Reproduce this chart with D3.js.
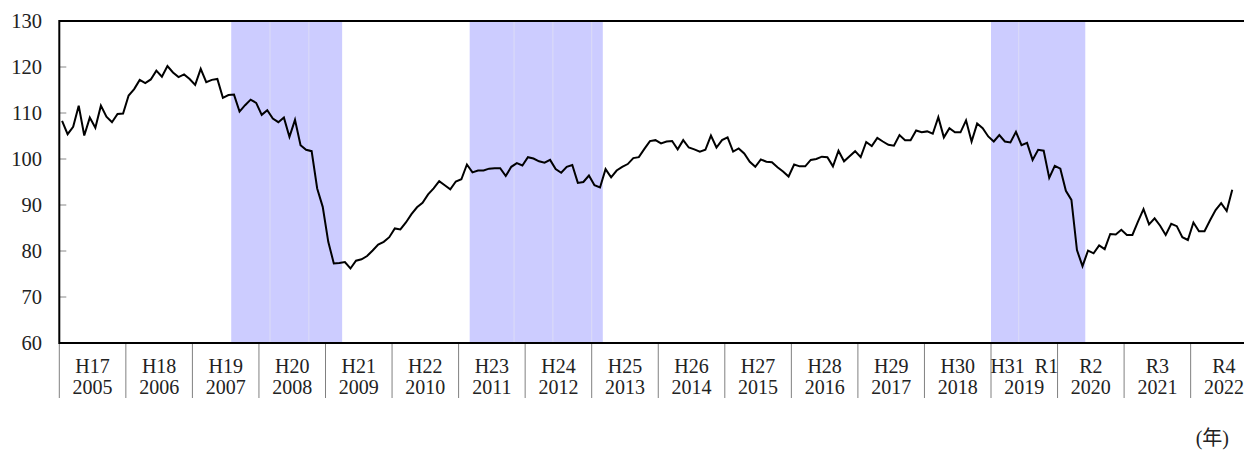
<!DOCTYPE html>
<meta charset="utf-8">
<style>
body{margin:0;background:#fff;}
text{font-family:"Liberation Serif","Noto Sans CJK JP",serif;fill:#222;}
</style>
<body>
<svg id="chart" width="1244" height="450"></svg>
<script src="https://cdnjs.cloudflare.com/ajax/libs/d3/7.8.5/d3.min.js"></script>
<script>

// monthly index, Jan 2005 - Aug 2022
var values = [
  108.3,105.4,107.0,111.6,105.1,109.0,106.8,111.6,109.2,108.0,109.8,109.9, // 2005
  113.8,115.2,117.2,116.5,117.3,119.2,117.9,120.2,118.8,117.8,118.4,117.4, // 2006
  116.1,119.6,116.7,117.2,117.4,113.3,113.9,114.0,110.3,111.7,112.9,112.2, // 2007
  109.6,110.6,108.8,108.0,109.0,104.8,108.5,103.0,102.0,101.7,93.6,89.6,   // 2008
  82.0,77.3,77.4,77.6,76.2,77.9,78.2,78.9,80.1,81.4,82.0,83.0,             // 2009
  84.9,84.7,86.2,88.0,89.5,90.5,92.3,93.6,95.2,94.3,93.4,95.1,             // 2010
  95.6,98.8,97.1,97.5,97.5,97.9,98.0,98.0,96.3,98.3,99.1,98.6,             // 2011
  100.4,100.1,99.5,99.2,99.8,97.8,97.0,98.3,98.7,94.8,95.0,96.4,           // 2012
  94.3,93.8,97.8,96.0,97.5,98.3,98.9,100.2,100.4,102.2,103.9,104.1,        // 2013
  103.4,103.8,103.9,102.1,104.1,102.5,102.1,101.6,102.0,105.1,102.5,104.1, // 2014
  104.7,101.6,102.3,101.2,99.4,98.3,99.9,99.4,99.3,98.2,97.3,96.2,         // 2015
  98.8,98.4,98.4,99.8,100.0,100.5,100.4,98.4,101.8,99.5,100.6,101.7,       // 2016
  100.4,103.7,102.8,104.6,103.8,103.1,102.9,105.2,104.1,104.1,106.2,105.8, // 2017
  106.0,105.5,109.1,104.7,106.7,105.8,105.8,108.4,103.8,107.7,106.7,104.9, // 2018
  103.8,105.2,103.8,103.6,105.9,103.0,103.5,99.8,102.0,101.8,95.9,98.5,    // 2019
  97.9,93.1,91.1,80.2,76.7,80.1,79.5,81.2,80.4,83.7,83.6,84.6,             // 2020
  83.5,83.5,86.4,89.1,85.8,87.1,85.5,83.5,85.9,85.4,83.0,82.4,             // 2021
  86.2,84.3,84.3,86.7,88.9,90.4,88.7,93.3                                  // 2022
];

var years = ["2005","2006","2007","2008","2009","2010","2011","2012","2013",
             "2014","2015","2016","2017","2018","2019","2020","2021","2022"];
var eras  = ["H17","H18","H19","H20","H21","H22","H23","H24","H25",
             "H26","H27","H28","H29","H30","H31  R1","R2","R3","R4"];

var yTicks = [60,70,80,90,100,110,120,130];

// shaded periods, split into parts (month boundaries, end exclusive)
var shade1 = ["2007-08","2008-03","2008-10","2009-04"];
var shade2 = ["2011-03","2011-11","2012-06","2013-01","2013-03"];
var shade3 = ["2019-01","2019-06","2020-06"];

var plotLeft = 59.3, plotTop = 21, plotBottom = 343, yearW = 66.55;

var mIdx = s => (+s.slice(0,4) - 2005) * 12 + (+s.slice(5) - 1);

var x = d3.scaleLinear().domain([0, years.length * 12]).range([plotLeft, plotLeft + years.length * yearW]);
var y = d3.scaleLinear().domain([60, 130]).range([plotBottom, plotTop]);

var svg = d3.select('#chart');

// shading
[shade1, shade2, shade3].forEach(function(b){
  svg.append('rect')
    .attr('x', x(mIdx(b[0])))
    .attr('y', plotTop)
    .attr('width', x(mIdx(b[b.length-1])) - x(mIdx(b[0])))
    .attr('height', plotBottom - plotTop)
    .attr('fill', '#ccccff');
  svg.selectAll(null)
    .data(b.slice(1, -1))
    .enter().append('line')
    .attr('x1', d => x(mIdx(d))).attr('x2', d => x(mIdx(d)))
    .attr('y1', plotTop).attr('y2', plotBottom)
    .attr('stroke', '#dcdcf6').attr('stroke-width', 1);
});

// y ticks (inside) and labels
svg.selectAll('.ytick')
  .data(yTicks.slice(1, -1))
  .enter().append('line')
  .attr('class','ytick')
  .attr('x1', plotLeft).attr('x2', plotLeft + 7)
  .attr('y1', d => y(d)).attr('y2', d => y(d))
  .attr('stroke', '#888').attr('stroke-width', 1);

svg.selectAll('.ylab')
  .data(yTicks)
  .enter().append('text')
  .attr('class','ylab')
  .attr('x', 42)
  .attr('y', d => y(d))
  .attr('dy', '0.34em')
  .attr('text-anchor', 'end')
  .style('font-size', '20.5px')
  .text(d => d);

// year cells under the axis
svg.selectAll('.sep')
  .data(d3.range(years.length + 1))
  .enter().append('line')
  .attr('class','sep')
  .attr('x1', d => x(d * 12)).attr('x2', d => x(d * 12))
  .attr('y1', plotBottom).attr('y2', 398)
  .attr('stroke', '#808080').attr('stroke-width', 1);

svg.selectAll('.era')
  .data(eras)
  .enter().append('text')
  .attr('class','era')
  .attr('x', (d,i) => x(i * 12 + 6))
  .attr('y', 373)
  .attr('text-anchor', 'middle')
  .style('font-size', '20px')
  .style('white-space', 'pre')
  .text(d => d);

svg.selectAll('.year')
  .data(years)
  .enter().append('text')
  .attr('class','year')
  .attr('x', (d,i) => x(i * 12 + 6))
  .attr('y', 394)
  .attr('text-anchor', 'middle')
  .style('font-size', '20px')
  .text(d => d);

// frame
svg.append('line')
  .attr('x1', plotLeft).attr('x2', x(years.length * 12))
  .attr('y1', plotTop).attr('y2', plotTop)
  .attr('stroke', '#000').attr('stroke-width', 2);
svg.append('line')
  .attr('x1', plotLeft).attr('x2', x(years.length * 12))
  .attr('y1', plotBottom).attr('y2', plotBottom)
  .attr('stroke', '#000').attr('stroke-width', 2);
svg.append('line')
  .attr('x1', plotLeft).attr('x2', plotLeft)
  .attr('y1', plotTop - 1).attr('y2', plotBottom + 1)
  .attr('stroke', '#000').attr('stroke-width', 2);

// series
svg.append('path')
  .datum(values)
  .attr('fill', 'none')
  .attr('stroke', '#000')
  .attr('stroke-width', 2)
  .attr('d', d3.line().x((d,i) => x(i + 0.5)).y(d => y(d)));

svg.append('text')
  .attr('x', 1229).attr('y', 445)
  .attr('text-anchor', 'end')
  .style('font-size', '20px')
  .text('(年)');
</script>
